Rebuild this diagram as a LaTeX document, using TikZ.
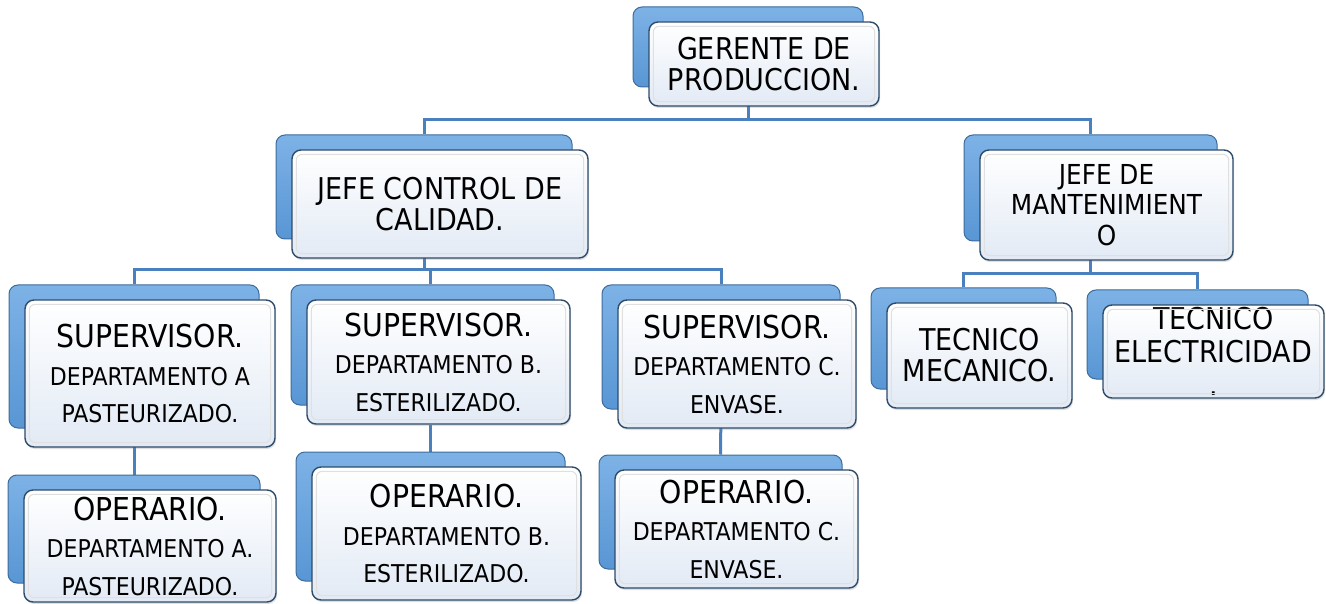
\documentclass[tikz,border=0pt]{standalone}
\usepackage{fontspec}
\setmainfont{DejaVu Sans Condensed}
\usetikzlibrary{shadows}
\pgfdeclarelayer{bg}
\pgfsetlayers{bg,main}
\definecolor{conncol}{HTML}{4A80BE}
\definecolor{backfill}{HTML}{5896D4}
\definecolor{backtop}{HTML}{7DB2E6}
\definecolor{backdraw}{HTML}{3D6C9C}
\definecolor{frontdraw}{HTML}{2E4B6A}
\definecolor{frontbot}{HTML}{E2EAF5}
\newcommand\bigf{\fontsize{30}{31}\selectfont}
\newcommand\headf{\fontsize{31.5}{31}\selectfont}
\newcommand\smf{\fontsize{24.5}{37.5}\selectfont}
\newcommand\mantf{\fontsize{27.5}{30.5}\selectfont}
\tikzset{
  conn/.style={draw=conncol, line width=3pt},
  backbox/.style={rounded corners=9pt, top color=backtop, bottom color=backfill,
    draw=backdraw, line width=1pt, inner sep=0pt},
  frontbox/.style={rounded corners=9pt, top color=white, bottom color=frontbot,
    draw=frontdraw, line width=1.4pt, inner sep=0pt, align=center, font=\bigf,
    drop shadow={opacity=0.25, shadow xshift=1pt, shadow yshift=-2pt}},
  bevel/.style={rounded corners=6pt, draw=black!12, line width=1pt},
  threeline/.style={font=\smf},
}
% \obox[options]{name}{x1}{y1}{x2}{y2}  (front box corners), text in \oboxtext
\newcommand\obox[6][]{%
  \pgfmathsetmacro\ow{#5-#3}\pgfmathsetmacro\oh{#6-#4}%
  \pgfmathsetmacro\ocx{(#3+#5)/2}\pgfmathsetmacro\ocy{(#4+#6)/2}%
  \node[backbox, minimum width=\ow pt, minimum height=\oh pt-4pt] (#2B) at (\ocx-16,\ocy-17) {};%
  \node[frontbox, minimum width=\ow pt, minimum height=\oh pt, #1] (#2) at (\ocx,\ocy) {\oboxtext};%
  \draw[bevel] ([xshift=5pt,yshift=-5pt]#2.north west) rectangle ([xshift=-5pt,yshift=5pt]#2.south east);%
}
\begin{document}
\begin{tikzpicture}[x=1pt,y=-1pt]
\useasboundingbox (0,0) rectangle (1326,604);

\def\oboxtext{GERENTE DE\\PRODUCCION.}
\obox{g}{649}{22}{879}{106}
\def\oboxtext{JEFE CONTROL DE\\CALIDAD.}
\obox{jc}{292}{150}{588}{258}
\def\oboxtext{JEFE DE\\MANTENIMIENT\\O}
\obox[font=\mantf]{jm}{980}{150}{1233}{260}

\def\oboxtext{{\headf SUPERVISOR.}\\DEPARTAMENTO A\\PASTEURIZADO.}
\obox[threeline]{sa}{25}{300}{275}{447}
\def\oboxtext{{\headf SUPERVISOR.}\\DEPARTAMENTO B.\\ESTERILIZADO.}
\obox[threeline]{sb}{307}{300}{570}{424}
\def\oboxtext{{\headf SUPERVISOR.}\\DEPARTAMENTO C.\\ENVASE.}
\obox[threeline]{sc}{618}{300}{856}{428}

\def\oboxtext{{\headf OPERARIO.}\\DEPARTAMENTO A.\\PASTEURIZADO.}
\obox[threeline]{oa}{24}{490}{276}{602}
\def\oboxtext{{\headf OPERARIO.}\\DEPARTAMENTO B.\\ESTERILIZADO.}
\obox[threeline]{ob}{312}{467}{581}{600}
\def\oboxtext{{\headf OPERARIO.}\\DEPARTAMENTO C.\\ENVASE.}
\obox[threeline]{oc}{615}{470}{858}{588}

\def\oboxtext{TECNICO\\MECANICO.}
\obox{tm}{887}{303}{1072}{408}
\def\oboxtext{TECNICO\\ELECTRICIDAD\\.}
\obox[font={\fontsize{30}{33}\selectfont}]{te}{1103}{305}{1324}{398}

\coordinate (r1) at (0,120);
\coordinate (r2) at (0,270);
\coordinate (r3) at (0,274);
\coordinate (k) at (430,270);

\begin{pgfonlayer}{bg}
\fill[white] (0,0) rectangle (1326,604);
\draw[conn] (gB.south) -- (gB.south |- r1) -| (jcB.north);
\draw[conn] (gB.south |- r1) -| (jmB.north);
\draw[conn] (jcB.south) -- (jcB.south |- r2);
\draw[conn] (saB.north) |- (scB.north |- r2) -- (scB.north);
\draw[conn] (k) -- (k |- sbB.north);
\draw[conn] (k |- sb.south) -- (k |- obB.north);
\draw[conn] (saB.south) -- (oaB.north);
\draw[conn] (scB.south) -- (ocB.north);
\draw[conn] (jmB.south) -- (jmB.south |- r3);
\draw[conn] (tmB.north) |- (teB.north |- r3) -- (teB.north);
\end{pgfonlayer}
\end{tikzpicture}
\end{document}
